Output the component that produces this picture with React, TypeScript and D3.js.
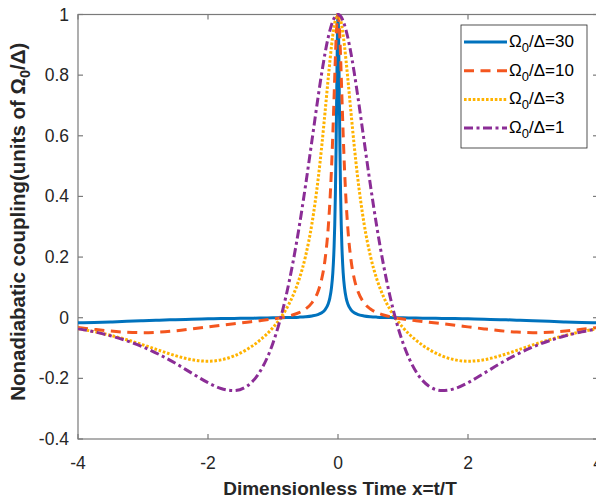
import React from "react";
import * as d3 from "d3";

// Half-axis sample positions (x >= 0); curves are symmetric about x = 0
const halfX = [0, 0.01, 0.02, 0.03, 0.04, 0.05, 0.06, 0.08, 0.1, 0.125, 0.15, 0.2, 0.25, 0.3, 0.4, 0.5, 0.6, 0.7, 0.8, 0.9, 1.0, 1.2, 1.4, 1.6, 1.8, 2.0, 2.25, 2.5, 2.75, 3.0, 3.25, 3.5, 3.75, 4.0];

const ratio30 = [1, 0.917, 0.7346, 0.5515, 0.4089, 0.3066, 0.2348, 0.1469, 0.099, 0.0654, 0.0461, 0.0261, 0.0165, 0.0112, 0.0059, 0.0033, 0.0019, 0.001, 0.0004, -0.0001, -0.0005, -0.0011, -0.0017, -0.0023, -0.003, -0.0038, -0.005, -0.0064, -0.008, -0.0099, -0.012, -0.014, -0.0157, -0.0166];
const ratio10 = [1, 0.99, 0.9606, 0.9155, 0.859, 0.7956, 0.7298, 0.6026, 0.4917, 0.3812, 0.2983, 0.1905, 0.1285, 0.0906, 0.0493, 0.0286, 0.0166, 0.0089, 0.0034, -0.0007, -0.0041, -0.0097, -0.0147, -0.0197, -0.0248, -0.0302, -0.0369, -0.043, -0.0475, -0.0493, -0.0479, -0.044, -0.0384, -0.0322];
const ratio3 = [1, 0.999, 0.9954, 0.9897, 0.9819, 0.972, 0.9601, 0.9311, 0.896, 0.8457, 0.7907, 0.6761, 0.566, 0.4675, 0.3116, 0.2023, 0.1254, 0.0696, 0.0274, -0.0056, -0.0325, -0.0741, -0.1045, -0.1261, -0.139, -0.1435, -0.1385, -0.1252, -0.1077, -0.0895, -0.0726, -0.058, -0.0459, -0.0361];
const ratio1 = [1, 1.0, 0.9986, 0.9969, 0.9944, 0.9913, 0.9875, 0.9779, 0.9658, 0.9471, 0.925, 0.8713, 0.8077, 0.737, 0.5856, 0.435, 0.2962, 0.1743, 0.0708, -0.0146, -0.0834, -0.1777, -0.2257, -0.2404, -0.2335, -0.2142, -0.1828, -0.1505, -0.1213, -0.0964, -0.0761, -0.0597, -0.0467, -0.0365];

const seriesLabels = ["30", "10", "3", "1"];
const xTicks = [-4, -2, 0, 2, 4];
const yTicks = [-0.4, -0.2, 0, 0.2, 0.4, 0.6, 0.8, 1];

const styles = [
  { color: "#0072BD", dash: "none", width: 3 },
  { color: "#F4561F", dash: "10,6.5", width: 3 },
  { color: "#FFB300", dash: "2.6,1.8", width: 3 },
  { color: "#8B2D96", dash: "9,3.5,3,3.5", width: 3 },
];

const W = 596, H = 500;
const L = 78, R = 598, T = 14.5, B = 439;
const FONT = "'Liberation Sans', Arial, Helvetica, sans-serif";

function mirror(vals: number[]) {
  const pts: [number, number][] = [];
  for (let i = halfX.length - 1; i > 0; i--) pts.push([-halfX[i], vals[i]]);
  for (let i = 0; i < halfX.length; i++) pts.push([halfX[i], vals[i]]);
  return pts;
}

export default function App() {
  const x = d3.scaleLinear().domain([-4, 4]).range([L, R]);
  const y = d3.scaleLinear().domain([-0.4, 1]).range([B, T]);
  const line = d3
    .line<[number, number]>()
    .x((d) => x(d[0]))
    .y((d) => y(d[1]))
    .curve(d3.curveMonotoneX);
  const all = [ratio30, ratio10, ratio3, ratio1];
  const axisColor = "#7a7a7a";
  const tickLen = 5;

  const legX = 461, legY = 25, legW = 126, legH = 123;
  return (
    <div style={{ position: "absolute", left: 0, top: 0 }}>
      <svg width={W} height={H} style={{ display: "block" }}>
        <rect x={0} y={0} width={W} height={H} fill="#fff" />
        <defs>
          <clipPath id="plot">
            <rect x={L} y={T - 3} width={R - L} height={B - T + 6} />
          </clipPath>
        </defs>
        {/* axes box */}
        <rect x={L} y={T} width={R - L} height={B - T} fill="none" stroke={axisColor} strokeWidth={1.2} />
        {xTicks.map((t) => (
          <g key={"xt" + t}>
            <line x1={x(t)} x2={x(t)} y1={B} y2={B - tickLen} stroke={axisColor} strokeWidth={1.2} />
            <line x1={x(t)} x2={x(t)} y1={T} y2={T + tickLen} stroke={axisColor} strokeWidth={1.2} />
            <text x={x(t)} y={B + 30} textAnchor="middle" fontFamily={FONT} fontSize={17.5} fill="#262626">
              {t}
            </text>
          </g>
        ))}
        {yTicks.map((t) => (
          <g key={"yt" + t}>
            <line x1={L} x2={L + tickLen} y1={y(t)} y2={y(t)} stroke={axisColor} strokeWidth={1.2} />
            <line x1={R} x2={R - tickLen} y1={y(t)} y2={y(t)} stroke={axisColor} strokeWidth={1.2} />
            <text x={L - 9} y={y(t) + 6} textAnchor="end" fontFamily={FONT} fontSize={17.5} fill="#262626">
              {String(Math.round(t * 10) / 10)}
            </text>
          </g>
        ))}
        <g clipPath="url(#plot)">
          {all.map((vals, i) => (
            <path
              key={i}
              d={line(mirror(vals)) || ""}
              fill="none"
              stroke={styles[i].color}
              strokeWidth={styles[i].width}
              strokeDasharray={styles[i].dash}
              strokeLinejoin="round"
            />
          ))}
        </g>
        {/* legend */}
        <rect x={legX} y={legY} width={legW} height={legH} fill="#fff" stroke="#262626" strokeWidth={0.8} />
        {seriesLabels.map((lab, i) => {
          const cy = legY + 17 + i * 28.7;
          return (
            <g key={"lg" + i}>
              <line
                x1={legX + 3}
                x2={legX + 46}
                y1={cy}
                y2={cy}
                stroke={styles[i].color}
                strokeWidth={styles[i].width}
                strokeDasharray={styles[i].dash}
              />
              <text x={legX + 48} y={cy + 5} fontFamily={FONT} fontSize={17} fill="#000">
                Ω<tspan fontSize={13} dy={5}>0</tspan>
                <tspan dy={-5}>/Δ={lab}</tspan>
              </text>
            </g>
          );
        })}
        {/* axis titles */}
        <text x={(L + R) / 2 + 2} y={495} textAnchor="middle" fontFamily={FONT} fontSize={19} fontWeight="bold" fill="#262626">
          Dimensionless Time x=t/T
        </text>
        <text
          transform={`translate(25, ${(T + B) / 2 - 5}) rotate(-90)`}
          textAnchor="middle"
          fontFamily={FONT}
          fontSize={20.5}
          fontWeight="bold"
          fill="#262626"
        >
          Nonadiabatic coupling(units of Ω<tspan fontSize={14.5} dy={5}>0</tspan>
          <tspan dy={-5}>/Δ)</tspan>
        </text>
      </svg>
    </div>
  );
}
